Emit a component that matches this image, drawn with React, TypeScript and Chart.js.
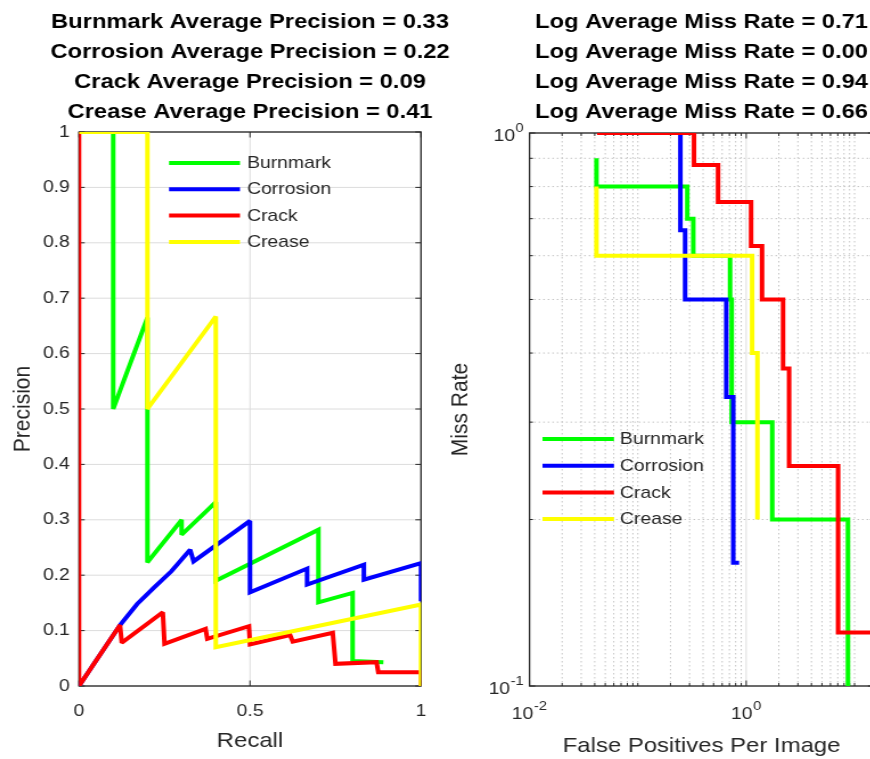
import React, { useEffect, useRef } from 'react';
import { Chart, registerables } from 'chart.js';

Chart.register(...registerables);

// ---------------- data ----------------
const seriesNames = ['Burnmark', 'Corrosion', 'Crack', 'Crease'];
const seriesColors = ['#00ff00', '#0000ff', '#ff0000', '#ffff00'];

const prTitleLines = [
  'Burnmark Average Precision = 0.33',
  'Corrosion Average Precision = 0.22',
  'Crack Average Precision = 0.09',
  'Crease Average Precision = 0.41',
];
const mrTitleLines = [
  'Log Average Miss Rate = 0.71',
  'Log Average Miss Rate = 0.00',
  'Log Average Miss Rate = 0.94',
  'Log Average Miss Rate = 0.66',
];

// Precision vs recall
const burnmarkRecall = [0.1, 0.1, 0.2, 0.2, 0.3, 0.3, 0.4, 0.4, 0.7, 0.7, 0.8, 0.8, 0.89];
const burnmarkPrecision = [1.0, 0.5, 0.665, 0.223, 0.3, 0.273, 0.332, 0.19, 0.282, 0.151, 0.168, 0.045, 0.043];
const corrosionRecall = [0, 0.12, 0.17, 0.22, 0.27, 0.325, 0.335, 0.5, 0.5, 0.667, 0.667, 0.833, 0.833, 1.0, 1.0];
const corrosionPrecision = [0, 0.11, 0.148, 0.178, 0.207, 0.246, 0.225, 0.298, 0.169, 0.212, 0.183, 0.219, 0.192, 0.222, 0.153];
const crackRecall = [0, 0, 0.12, 0.125, 0.245, 0.25, 0.37, 0.375, 0.497, 0.5, 0.617, 0.625, 0.742, 0.75, 0.87, 0.875, 1.0, 1.0];
const crackPrecision = [1, 0, 0.11, 0.078, 0.133, 0.076, 0.103, 0.085, 0.108, 0.075, 0.092, 0.08, 0.096, 0.04, 0.043, 0.025, 0.025, 0];
const creaseRecall = [0, 0.2, 0.2, 0.4, 0.4, 1.0, 1.0];
const creasePrecision = [1, 1, 0.5, 0.667, 0.07, 0.147, 0];

// Miss rate vs false positives per image
const burnmarkFppi = [0.0415, 0.0415, 0.286, 0.286, 0.325, 0.325, 0.71, 0.71, 0.735, 0.735, 1.74, 1.74, 8.7, 8.7];
const burnmarkMiss = [0.9, 0.8, 0.8, 0.7, 0.7, 0.6, 0.6, 0.5, 0.5, 0.3, 0.3, 0.2, 0.2, 0.09];
const corrosionFppi = [0.247, 0.247, 0.273, 0.273, 0.655, 0.655, 0.76, 0.76, 0.86];
const corrosionMiss = [1.0, 0.667, 0.667, 0.5, 0.5, 0.333, 0.333, 0.167, 0.167];
const crackFppi = [0.042, 0.33, 0.33, 0.55, 0.55, 1.11, 1.11, 1.4, 1.4, 2.19, 2.19, 2.49, 2.49, 7.05, 7.05, 20];
const crackMiss = [1.0, 1.0, 0.875, 0.875, 0.75, 0.75, 0.625, 0.625, 0.5, 0.5, 0.375, 0.375, 0.25, 0.25, 0.125, 0.125];
const creaseFppi = [0.0415, 0.0415, 1.135, 1.135, 1.27, 1.27];
const creaseMiss = [0.8, 0.6, 0.6, 0.4, 0.4, 0.2];

// axes
const prXTicks = [0, 0.5, 1];
const prYTicks = [0, 0.1, 0.2, 0.3, 0.4, 0.5, 0.6, 0.7, 0.8, 0.9, 1];
const mrXMin = 0.01;
const mrXMax = 15;
const mrYMin = 0.1;
const mrYMax = 1;
const mrXTickExps = [-2, 0, 2];
const mrYTickExps = [-1, 0];

// ---------------- styling ----------------
const FONT = "'Liberation Sans', Arial, Helvetica, sans-serif";
const AXIS_COLOR = '#262626';
const H = 759;

function pts(xs: number[], ys: number[]) {
  return xs.map((x, i) => ({ x, y: ys[i] }));
}

function minorValues(min: number, max: number, majors: number[]) {
  const out: number[] = [];
  for (let e = Math.floor(Math.log10(min)); e <= Math.ceil(Math.log10(max)); e++) {
    for (let k = 1; k <= 9; k++) {
      const v = k * Math.pow(10, e);
      if (v < min * 0.999 || v > max * 1.001) continue;
      if (majors.some((m) => Math.abs(m - v) / m < 1e-6)) continue;
      out.push(v);
    }
  }
  return out;
}

interface PanelLayout {
  cssLeft: number; cssW: number; w: number;
  caLeft: number; caRight: number; caTop: number; caBottom: number; // reference px
}

const PANEL_A: PanelLayout = { cssLeft: 0, cssW: 480, w: 421, caLeft: 79, caRight: 421, caTop: 132, caBottom: 686 };
const PANEL_B: PanelLayout = { cssLeft: 440, cssW: 460, w: 404, caLeft: 529.5, caRight: 873.6, caTop: 133, caBottom: 686 };

function titlePlugin(lines: string[]) {
  return {
    id: 'multiTitle',
    afterDraw(chart: any) {
      const { ctx, chartArea: ca } = chart;
      ctx.save();
      ctx.font = `bold 20.8px ${FONT}`;
      ctx.fillStyle = '#000';
      ctx.textAlign = 'center';
      ctx.textBaseline = 'middle';
      const cx = (ca.left + ca.right) / 2;
      lines.forEach((t, i) => ctx.fillText(t, cx, 22 + i * 30));
      ctx.restore();
    },
  };
}

function legendPlugin(s: number, x0: number, x1: number, tx: number, y0: number, dy: number) {
  return {
    id: 'insideLegend',
    afterDatasetsDraw(chart: any) {
      const { ctx, chartArea: ca } = chart;
      ctx.save();
      ctx.font = `17px ${FONT}`;
      ctx.textAlign = 'left';
      ctx.textBaseline = 'middle';
      seriesNames.forEach((name, i) => {
        const y = y0 + i * dy;
        ctx.strokeStyle = seriesColors[i];
        ctx.lineWidth = 4;
        ctx.lineCap = 'butt';
        ctx.beginPath();
        ctx.moveTo(ca.left + x0 / s, y);
        ctx.lineTo(ca.left + x1 / s, y);
        ctx.stroke();
        ctx.fillStyle = AXIS_COLOR;
        ctx.fillText(name, ca.left + tx / s, y + 0.5);
      });
      ctx.restore();
    },
  };
}

// power-of-ten tick labels with a raised exponent
function drawPow(ctx: CanvasRenderingContext2D, exp: number, x: number, y: number, align: 'right' | 'center') {
  const base = '10';
  const sup = String(exp);
  ctx.font = `17px ${FONT}`;
  const wb = ctx.measureText(base).width;
  ctx.font = `13px ${FONT}`;
  const ws = ctx.measureText(sup).width;
  const total = wb + ws + 0.5;
  const x0 = align === 'right' ? x - total : x - total / 2;
  ctx.textAlign = 'left';
  ctx.textBaseline = 'middle';
  ctx.fillStyle = AXIS_COLOR;
  ctx.font = `17px ${FONT}`;
  ctx.fillText(base, x0, y);
  ctx.font = `13px ${FONT}`;
  ctx.fillText(sup, x0 + wb + 0.5, y - 8);
}

function powLabelPlugin() {
  return {
    id: 'powLabels',
    afterDraw(chart: any) {
      const { ctx, chartArea: ca } = chart;
      const xs = chart.scales.x;
      const ys = chart.scales.y;
      ctx.save();
      mrXTickExps.forEach((e) => {
        const v = Math.pow(10, e);
        if (v < xs.min || v > xs.max) return;
        drawPow(ctx, e, xs.getPixelForValue(v), ca.bottom + 28, 'center');
      });
      mrYTickExps.forEach((e) => {
        const v = Math.pow(10, e);
        drawPow(ctx, e, ca.left - 5, ys.getPixelForValue(v) + 3, 'right');
      });
      ctx.restore();
    },
  };
}

function framePlugin(kind: 'linear' | 'log') {
  return {
    id: 'frameGrid',
    beforeDatasetsDraw(chart: any) {
      const { ctx, chartArea: ca } = chart;
      const xs = chart.scales.x;
      const ys = chart.scales.y;
      const xMaj: number[] = xs.ticks.map((t: any) => t.value);
      const yMaj: number[] = ys.ticks.map((t: any) => t.value);
      const xMin = kind === 'log' ? minorValues(xs.min, xs.max, xMaj) : [];
      const yMin = kind === 'log' ? minorValues(ys.min, ys.max, yMaj) : [];
      const line = (a: number, b: number, c: number, d: number) => {
        ctx.beginPath(); ctx.moveTo(a, b); ctx.lineTo(c, d); ctx.stroke();
      };
      ctx.save();
      // minor grid (dotted)
      ctx.strokeStyle = '#c4c4c4';
      ctx.lineWidth = 1;
      ctx.setLineDash([1.5, 2.5]);
      xMin.forEach((v) => { const p = xs.getPixelForValue(v); line(p, ca.top, p, ca.bottom); });
      yMin.forEach((v) => { const p = ys.getPixelForValue(v); line(ca.left, p, ca.right, p); });
      ctx.setLineDash([]);
      // major grid
      ctx.strokeStyle = '#dcdcdc';
      xMaj.forEach((v) => { const p = xs.getPixelForValue(v); line(p, ca.top, p, ca.bottom); });
      yMaj.forEach((v) => { const p = ys.getPixelForValue(v); line(ca.left, p, ca.right, p); });
      // frame
      ctx.strokeStyle = AXIS_COLOR;
      ctx.lineWidth = 1.3;
      ctx.strokeRect(ca.left, ca.top, ca.right - ca.left, ca.bottom - ca.top);
      // inward ticks
      ctx.lineWidth = 1;
      const tickX = (vals: number[], len: number) => vals.forEach((v) => {
        const p = xs.getPixelForValue(v);
        line(p, ca.bottom, p, ca.bottom - len);
        line(p, ca.top, p, ca.top + len);
      });
      const tickY = (vals: number[], len: number) => vals.forEach((v) => {
        const p = ys.getPixelForValue(v);
        line(ca.left, p, ca.left + len, p);
        line(ca.right, p, ca.right - len, p);
      });
      tickX(xMaj, 5.5); tickY(yMaj, 5);
      tickX(xMin, 3); tickY(yMin, 3);
      ctx.restore();
      ctx.miterLimit = 2;
    },
    afterDatasetsDraw(chart: any) {
      chart.ctx.miterLimit = 10;
    },
  };
}

function makeDatasets(series: { x: number; y: number }[][]) {
  return series.map((data, i) => ({
    label: seriesNames[i],
    data,
    showLine: true,
    borderColor: seriesColors[i],
    backgroundColor: seriesColors[i],
    borderWidth: 4,
    pointRadius: 0,
    pointHoverRadius: 0,
    fill: false,
    tension: 0,
    borderJoinStyle: 'miter' as const,
    borderCapStyle: 'butt' as const,
    order: 3 - i,
  }));
}

function tickFont() {
  return { family: FONT, size: 17 };
}
function labelFont() {
  return { family: FONT, size: 21 };
}

export default function App() {
  const refA = useRef<HTMLCanvasElement>(null);
  const refB = useRef<HTMLCanvasElement>(null);

  useEffect(() => {
    const sA = PANEL_A.cssW / PANEL_A.w;
    const sB = PANEL_B.cssW / PANEL_B.w;

    const prData = [
      pts(burnmarkRecall, burnmarkPrecision),
      pts(corrosionRecall, corrosionPrecision),
      pts(crackRecall, crackPrecision),
      pts(creaseRecall, creasePrecision),
    ];
    const mrData = [
      pts(burnmarkFppi, burnmarkMiss),
      pts(corrosionFppi, corrosionMiss),
      pts(crackFppi, crackMiss),
      pts(creaseFppi, creaseMiss),
    ];

    const aLeftW = (PANEL_A.caLeft - PANEL_A.cssLeft) / sA;
    const aRightPad = PANEL_A.w - (PANEL_A.caRight - PANEL_A.cssLeft) / sA;
    const bLeftW = (PANEL_B.caLeft - PANEL_B.cssLeft) / sB;
    const bRightPad = PANEL_B.w - (PANEL_B.caRight - PANEL_B.cssLeft) / sB;

    const chartA = new Chart(refA.current as HTMLCanvasElement, {
      type: 'scatter',
      data: { datasets: makeDatasets(prData) as any },
      options: {
        responsive: false,
        devicePixelRatio: 1,
        animation: false,
        events: [],
        layout: { padding: { left: 0, right: aRightPad, top: PANEL_A.caTop, bottom: 0 } },
        plugins: { legend: { display: false }, tooltip: { enabled: false }, title: { display: false } },
        scales: {
          x: {
            type: 'linear',
            min: 0,
            max: 1,
            afterBuildTicks: (s: any) => { s.ticks = prXTicks.map((v) => ({ value: v })); },
            afterFit: (s: any) => { s.height = H - PANEL_A.caBottom; },
            grid: { display: false, drawTicks: false },
            border: { display: false },
            ticks: { font: tickFont(), color: AXIS_COLOR, padding: 15, maxRotation: 0, autoSkip: false, callback: (v: any) => String(v) },
            title: { display: true, text: 'Recall', font: labelFont(), color: AXIS_COLOR, padding: { top: 0, bottom: 5 } },
          },
          y: {
            type: 'linear',
            min: 0,
            max: 1,
            afterBuildTicks: (s: any) => { s.ticks = prYTicks.map((v) => ({ value: v })); },
            afterFit: (s: any) => { s.width = aLeftW; },
            grid: { display: false, drawTicks: false },
            border: { display: false },
            ticks: { font: tickFont(), color: AXIS_COLOR, padding: 8, autoSkip: false, callback: (v: any) => String(v) },
            title: { display: true, text: 'Precision', font: labelFont(), color: AXIS_COLOR, padding: { top: 8, bottom: 0 } },
          },
        },
      } as any,
      plugins: [
        framePlugin('linear'),
        legendPlugin(sA, 90, 161, 168, 163, 26.3),
        titlePlugin(prTitleLines),
      ],
    });

    const chartB = new Chart(refB.current as HTMLCanvasElement, {
      type: 'scatter',
      data: { datasets: makeDatasets(mrData) as any },
      options: {
        responsive: false,
        devicePixelRatio: 1,
        animation: false,
        events: [],
        layout: { padding: { left: 0, right: bRightPad, top: PANEL_B.caTop, bottom: 0 } },
        plugins: { legend: { display: false }, tooltip: { enabled: false }, title: { display: false } },
        scales: {
          x: {
            type: 'logarithmic',
            min: mrXMin,
            max: mrXMax,
            afterBuildTicks: (s: any) => {
              s.ticks = mrXTickExps.map((e) => Math.pow(10, e)).filter((v) => v >= mrXMin && v <= mrXMax).map((v) => ({ value: v }));
            },
            afterFit: (s: any) => { s.height = H - PANEL_B.caBottom; },
            grid: { display: false, drawTicks: false },
            border: { display: false },
            ticks: { display: false },
            title: { display: true, text: 'False Positives Per Image', font: labelFont(), color: AXIS_COLOR, padding: { top: 0, bottom: 0 } },
          },
          y: {
            type: 'logarithmic',
            min: mrYMin,
            max: mrYMax,
            afterBuildTicks: (s: any) => {
              s.ticks = mrYTickExps.map((e) => ({ value: Math.pow(10, e) }));
            },
            afterFit: (s: any) => { s.width = bLeftW; },
            grid: { display: false, drawTicks: false },
            border: { display: false },
            ticks: { display: false },
            title: { display: true, text: 'Miss Rate', font: labelFont(), color: AXIS_COLOR, padding: { top: 6, bottom: 0 } },
          },
        },
      } as any,
      plugins: [
        framePlugin('log'),
        legendPlugin(sB, 13, 84.5, 90.5, 439, 26.7),
        titlePlugin(mrTitleLines),
        powLabelPlugin(),
      ],
    });

    return () => {
      chartA.destroy();
      chartB.destroy();
    };
  }, []);

  return (
    <div style={{ position: 'fixed', left: 0, top: 0, width: 870, height: H, overflow: 'hidden', background: '#ffffff' }}>
      <canvas
        ref={refA}
        width={PANEL_A.w}
        height={H}
        style={{ position: 'absolute', left: PANEL_A.cssLeft, top: 0, width: PANEL_A.cssW, height: H }}
      />
      <canvas
        ref={refB}
        width={PANEL_B.w}
        height={H}
        style={{ position: 'absolute', left: PANEL_B.cssLeft, top: 0, width: PANEL_B.cssW, height: H }}
      />
    </div>
  );
}
